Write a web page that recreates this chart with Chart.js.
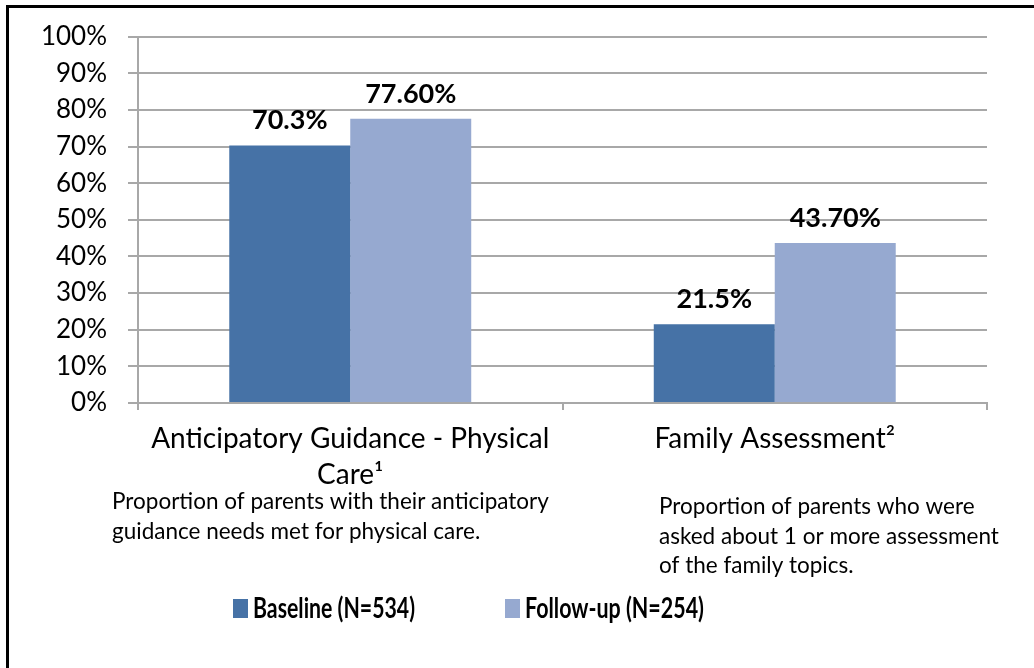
<!DOCTYPE html>
<html>
<head>
<meta charset="utf-8">
<script src="https://cdn.jsdelivr.net/npm/chart.js@4/dist/chart.umd.min.js"></script>
<style>
  html, body { margin: 0; padding: 0; background: #fff; }
  #wrap { position: relative; width: 1034px; height: 668px; overflow: hidden; }
  #c { position: absolute; left: 0; top: 0; }
  #frame { position: absolute; left: 6px; top: 5px; width: 1040px; height: 680px;
           border-left: 3px solid #000; border-top: 3px solid #000; pointer-events: none; }
</style>
</head>
<body>
<div id="wrap">
  <canvas id="c" width="1034" height="668"></canvas>
  <div id="frame"></div>
</div>
<script>
// ---- data ----
const categories = [
  ['Anticipatory Guidance - Physical', 'Care\u00B9'],
  ['Family Assessment\u00B2']
];
const seriesNames = ['Baseline (N=534)', 'Follow-up (N=254)'];
const baselineValues = [70.3, 21.5];
const followupValues = [77.6, 43.7];
const baselineLabels = ['70.3%', '21.5%'];
const followupLabels = ['77.60%', '43.70%'];
const yTicks = [0, 10, 20, 30, 40, 50, 60, 70, 80, 90, 100];
const notes = [
  ['Proportion of parents with their anticipatory', 'guidance needs met for physical care.'],
  ['Proportion of parents who were', 'asked about 1 or more assessment', 'of the family topics.']
];

const FONT = 'Lato, "Open Sans", sans-serif';
const colors = ['#4672A6', '#96A9D0'];
const valueLabels = [baselineLabels, followupLabels];

const extrasPlugin = {
  id: 'extras',
  afterDatasetsDraw(chart) {
    const ctx = chart.ctx;
    ctx.save();
    // value labels
    ctx.fillStyle = '#000';
    ctx.font = 'bold 27px ' + FONT;
    ctx.textAlign = 'center';
    ctx.textBaseline = 'alphabetic';
    chart.data.datasets.forEach((ds, di) => {
      const meta = chart.getDatasetMeta(di);
      meta.data.forEach((bar, i) => {
        ctx.fillText(valueLabels[di][i], bar.x, bar.y - 16);
      });
    });
    // notes under categories
    ctx.font = '22.5px ' + FONT;
    ctx.textAlign = 'left';
    const noteX = [112, 659];
    const noteY = [509, 514];
    notes.forEach((lines, k) => {
      lines.forEach((ln, j) => ctx.fillText(ln, noteX[k], noteY[k] + j * 29.5));
    });
    // legend
    ctx.font = 'bold 29px ' + FONT;
    const legX = [233, 505];
    const legW = [162, 179];
    chart.data.datasets.forEach((ds, di) => {
      ctx.fillStyle = ds.backgroundColor;
      ctx.fillRect(legX[di], 599, 15, 19);
      ctx.fillStyle = '#000';
      ctx.fillText(ds.label, legX[di] + 20, 618, legW[di]);
    });
    ctx.restore();
  }
};

new Chart(document.getElementById('c'), {
  type: 'bar',
  data: {
    labels: categories,
    datasets: [
      { label: seriesNames[0], data: baselineValues, backgroundColor: colors[0], borderWidth: 0 },
      { label: seriesNames[1], data: followupValues, backgroundColor: colors[1], borderWidth: 0 }
    ]
  },
  options: {
    responsive: false,
    animation: false,
    events: [],
    layout: { padding: { left: 0, right: 47, top: 35, bottom: 0 } },
    datasets: { bar: { categoryPercentage: 0.57, barPercentage: 1.0 } },
    plugins: { legend: { display: false }, tooltip: { enabled: false }, title: { display: false } },
    scales: {
      x: {
        offset: true,
        grid: { offset: true, drawOnChartArea: false, drawTicks: true, tickLength: 7, color: '#A8A8A8', lineWidth: 2 },
        border: { display: true, color: '#A8A8A8', width: 2 },
        ticks: { color: '#000', font: { family: FONT, size: 28, lineHeight: 1.32 }, padding: 10, maxRotation: 0, autoSkip: false },
        afterFit(scale) { scale.height = 265; }
      },
      y: {
        min: 0, max: 100,
        afterBuildTicks(scale) { scale.ticks = yTicks.map(v => ({ value: v })); },
        grid: { color: '#A8A8A8', lineWidth: 2, tickLength: 10, drawTicks: true },
        border: { display: true, color: '#A8A8A8', width: 2 },
        ticks: { color: '#000', font: { family: FONT, size: 26 }, padding: 21, callback: v => v + '%' },
        afterFit(scale) { scale.width = 138; }
      }
    }
  },
  plugins: [extrasPlugin]
});
</script>
</body>
</html>
